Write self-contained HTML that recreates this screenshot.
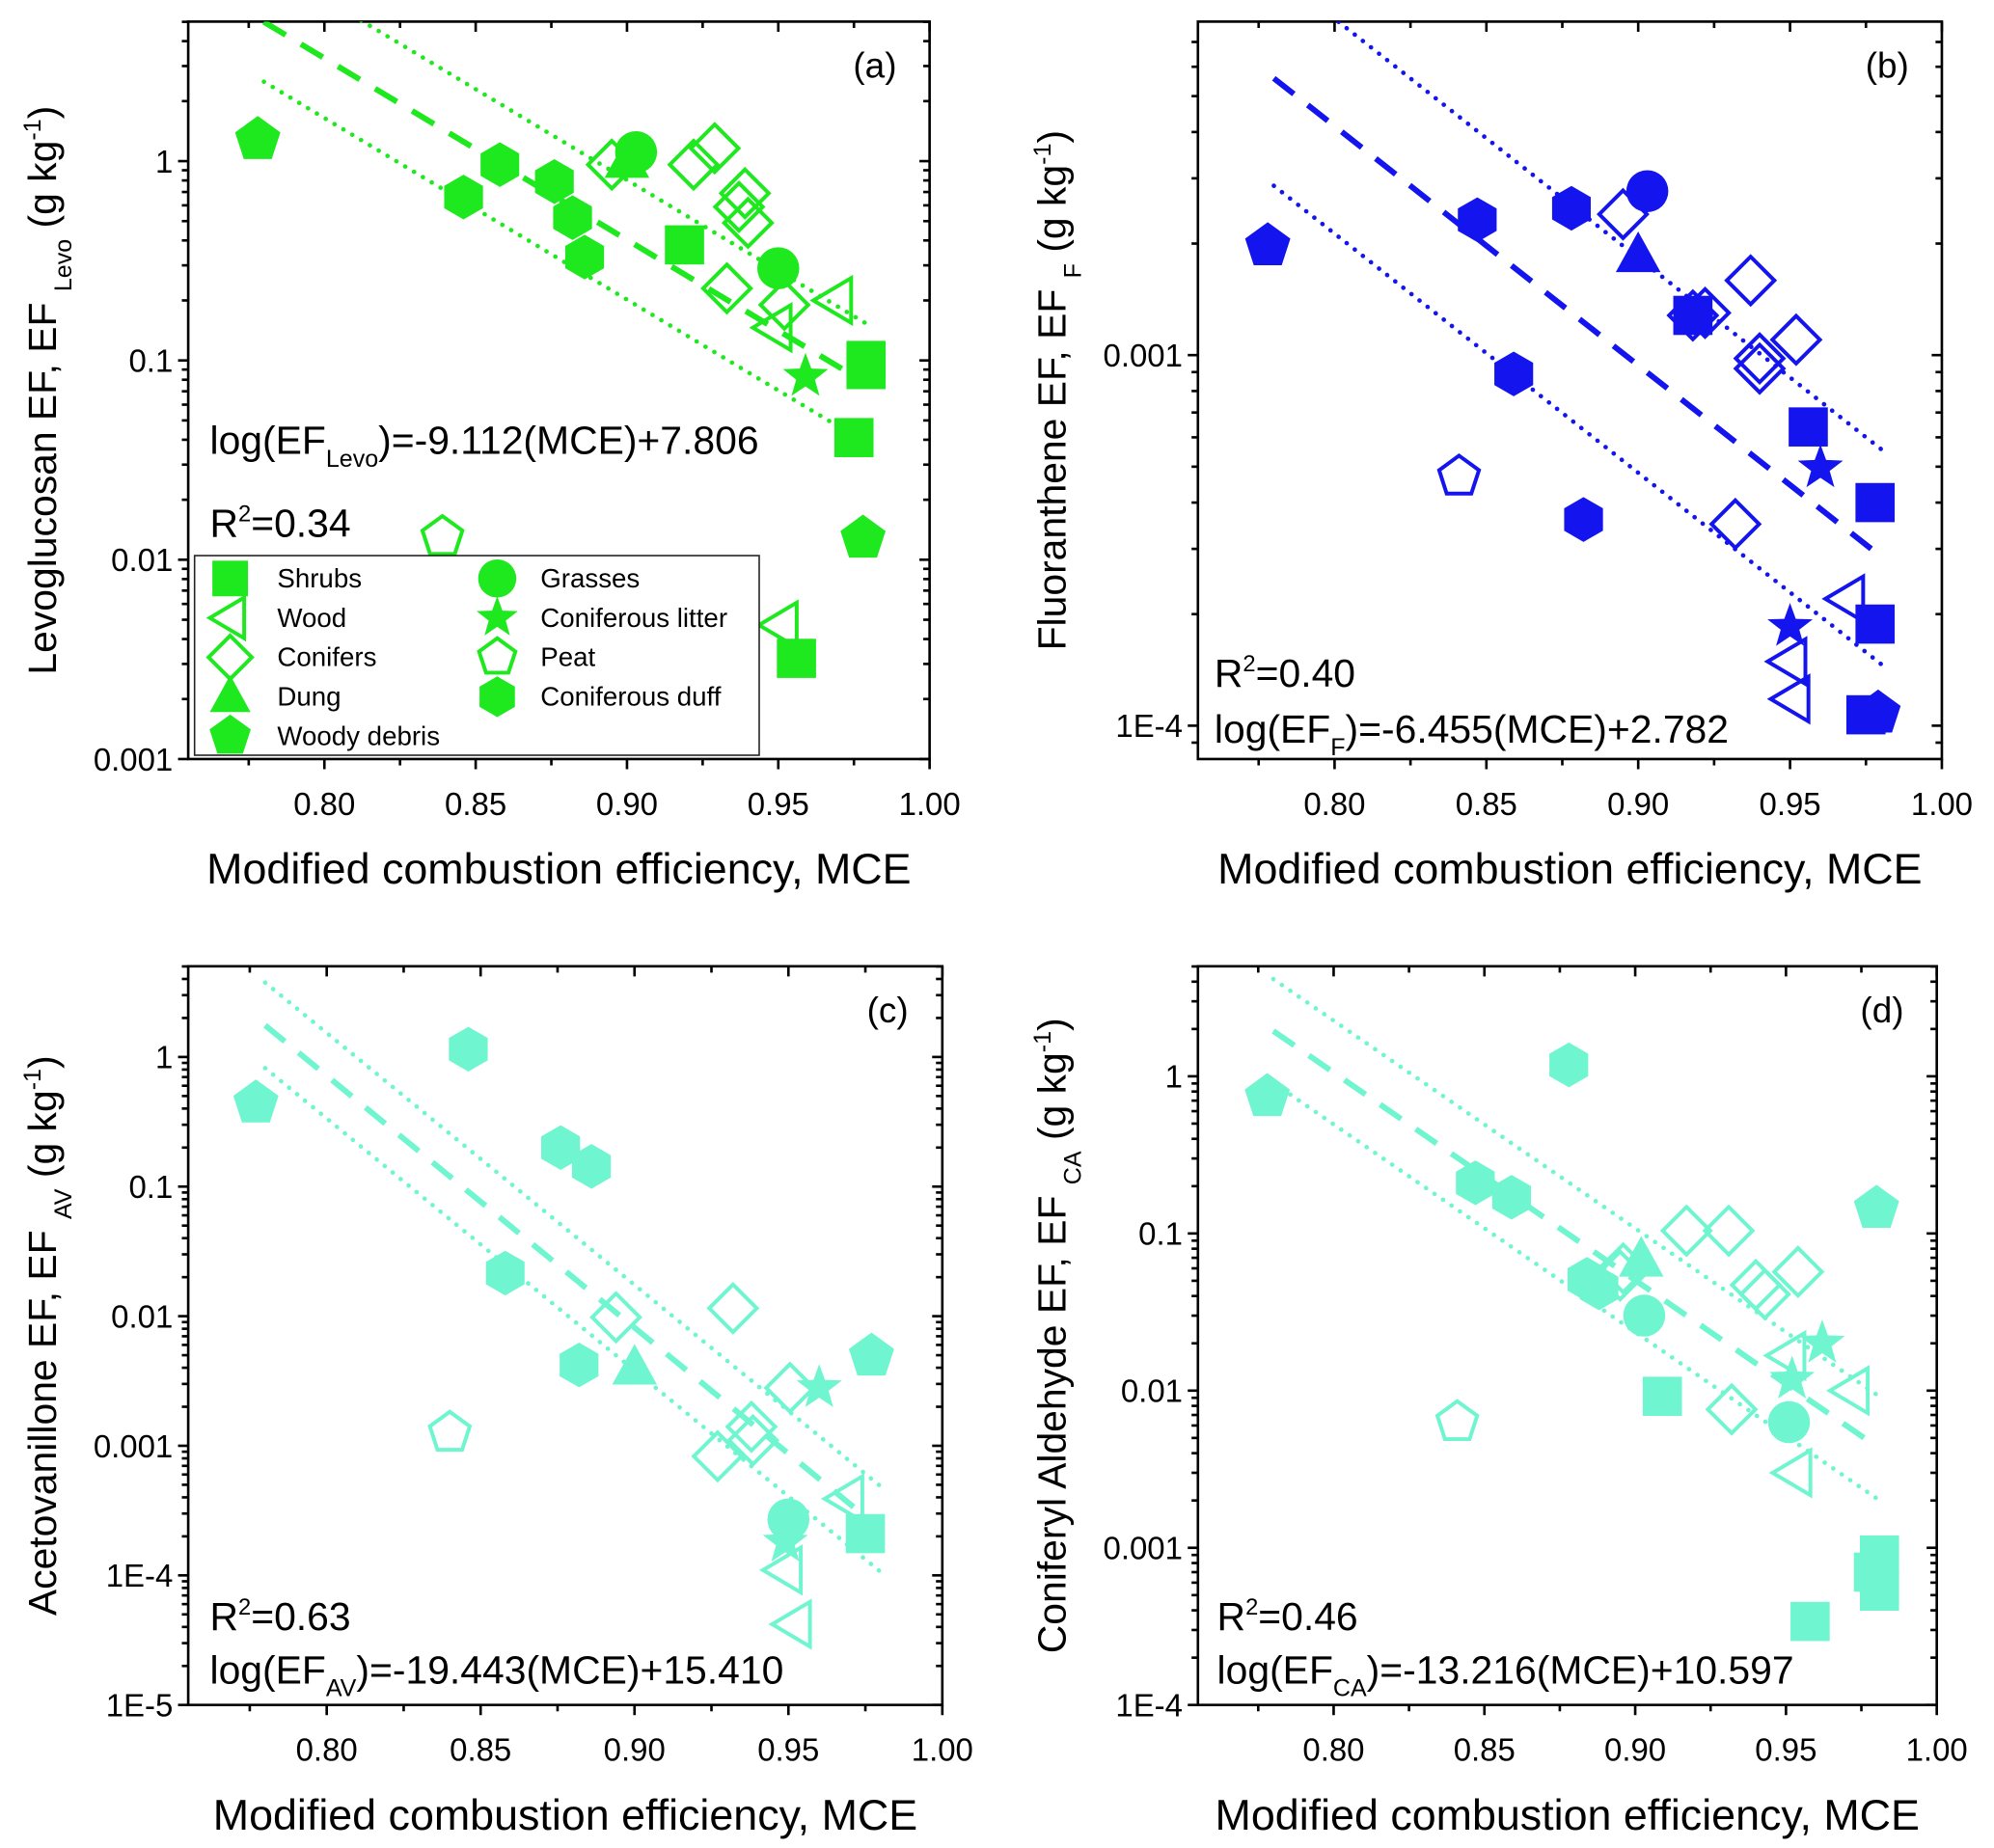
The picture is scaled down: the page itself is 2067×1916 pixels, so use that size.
<!DOCTYPE html>
<html><head><meta charset="utf-8"><title>EF vs MCE</title>
<style>
html,body{margin:0;padding:0;background:#fff;}
svg{display:block;font-family:"Liberation Sans",Arial,sans-serif;}
</style></head>
<body>
<svg id="fig" width="2067" height="1916" viewBox="0 0 1568 1453.5" preserveAspectRatio="none" xmlns="http://www.w3.org/2000/svg"></svg>
<script>
// ---------- Panel (a) Levoglucosan ----------
const aCat = ['WD','PT','WD','CD','CD','CD','CD','CD','GR','GR','DU','CO','CO','CO','CO','CO','CO','CO','CO','SH','SH','SH','SH','SH','WO','WO','WO','CL'];
const aMCE = [0.778,0.839,0.978,0.846,0.858,0.876,0.882,0.886,0.903,0.950,0.900,0.895,0.922,0.929,0.939,0.937,0.940,0.933,0.952,0.919,0.979,0.979,0.975,0.956,0.969,0.949,0.951,0.959];
const aEF  = [1.28,0.013,0.0128,0.66,0.96,0.79,0.52,0.33,1.11,0.29,1.0,0.96,0.96,1.16,0.69,0.59,0.49,0.23,0.19,0.38,0.10,0.09,0.041,0.0032,0.20,0.146,0.0047,0.083];
const aFit = [-9.112, 7.806];
const aBand = [0.30];
// ---------- Panel (b) Fluoranthene ----------
const bCat = ['WD','PT','CD','CD','CD','CD','GR','DU','CO','CO','CO','CO','CO','CO','CO','CO','SH','SH','SH','SH','SH','WO','WO','WO','CL','CL','WD'];
const bMCE = [0.778,0.841,0.847,0.859,0.882,0.878,0.903,0.900,0.895,0.918,0.922,0.937,0.940,0.940,0.952,0.932,0.918,0.956,0.978,0.978,0.975,0.969,0.950,0.951,0.960,0.950,0.979];
const bEF  = [0.00197,0.00047,0.00232,0.00089,0.00036,0.00249,0.00277,0.00186,0.0024,0.00128,0.0013,0.00159,0.00098,0.00092,0.0011,0.00035,0.00128,0.00064,0.0004,0.000188,0.000107,0.00022,0.000149,0.000118,0.000496,0.000185,0.000108];
const bFit = [-6.455, 2.782];
const bBand = [0.29];
// ---------- Panel (c) Acetovanillone ----------
const cCat = ['WD','WD','PT','CD','CD','CD','CD','CD','DU','CO','CO','CO','CO','CO','CO','GR','CL','CL','WO','WO','WO','SH'];
const cMCE = [0.777,0.977,0.840,0.846,0.876,0.886,0.858,0.882,0.900,0.894,0.932,0.927,0.938,0.9385,0.9505,0.950,0.960,0.949,0.949,0.952,0.969,0.975];
const cEF  = [0.44,0.0049,0.00126,1.15,0.20,0.143,0.0215,0.0042,0.0040,0.0098,0.0115,0.00083,0.0014,0.0011,0.0028,0.00027,0.0028,0.00018,0.00011,0.000042,0.00039,0.00021];
const cFit = [-19.443, 15.410];
const cBand = [0.33];
// ---------- Panel (d) Coniferyl aldehyde ----------
const dCat = ['WD','WD','PT','CD','CD','CD','CD','CD','DU','GR','GR','CO','CO','CO','CO','CO','CO','CO','CO','WO','WO','WO','CL','CL','SH','SH','SH','SH','SH'];
const dMCE = [0.778,0.980,0.841,0.878,0.847,0.859,0.884,0.888,0.902,0.903,0.951,0.895,0.917,0.931,0.940,0.943,0.954,0.932,0.896,0.951,0.972,0.953,0.962,0.952,0.909,0.958,0.979,0.981,0.981];
const dEF  = [0.74,0.144,0.0063,1.18,0.21,0.17,0.051,0.045,0.068,0.030,0.0063,0.054,0.104,0.104,0.047,0.041,0.057,0.0076,0.06,0.0167,0.010,0.0030,0.020,0.0118,0.0092,0.00034,0.00070,0.00090,0.00053];
const dFit = [-13.216, 10.597];
const dBand = [0.33];

const xTicks = [0.80,0.85,0.90,0.95,1.00];
const xTickLabels = ['0.80','0.85','0.90','0.95','1.00'];
const legendCats = ['SH','GR','WO','CL','CO','PT','DU','CD','WD'];
const legendNames = ['Shrubs','Grasses','Wood','Coniferous litter','Conifers','Peat','Dung','Coniferous duff','Woody debris'];

const NS='http://www.w3.org/2000/svg';
const svg=document.getElementById('fig');
function el(tag,attrs,parent){const e=document.createElementNS(NS,tag);for(const k in attrs)e.setAttribute(k,attrs[k]);(parent||svg).appendChild(e);return e;}

function marker(g,cat,cx,cy,col,k){
  k=k||1.1;let e;
  const poly=(pts,fill)=>el('polygon',{points:pts.map(p=>p[0].toFixed(1)+','+p[1].toFixed(1)).join(' '),fill:fill?col:'none',stroke:col,'stroke-width':fill?0:3},g);
  const reg=(n,r,rot)=>{const p=[];for(let i=0;i<n;i++){const a=rot+i*2*Math.PI/n;p.push([cx+r*k*Math.cos(a),cy+r*k*Math.sin(a)]);}return p;};
  if(cat==='SH') e=el('rect',{x:cx-14*k,y:cy-14*k,width:28*k,height:28*k,fill:col},g);
  else if(cat==='GR') e=el('circle',{cx:cx,cy:cy,r:15*k,fill:col},g);
  else if(cat==='DU') e=poly([[cx,cy-17*k],[cx+16*k,cy+12*k],[cx-16*k,cy+12*k]],true);
  else if(cat==='CO') e=poly([[cx,cy-17*k],[cx+17*k,cy],[cx,cy+17*k],[cx-17*k,cy]],false);
  else if(cat==='WO') e=poly([[cx-16*k,cy],[cx+11*k,cy-16*k],[cx+11*k,cy+16*k]],false);
  else if(cat==='WD') e=poly(reg(5,17,-Math.PI/2),true);
  else if(cat==='PT') e=poly(reg(5,15,-Math.PI/2),false);
  else if(cat==='CD') e=poly(reg(6,16,-Math.PI/2),true);
  else if(cat==='CL'){const p=[];for(let i=0;i<10;i++){const r=(i%2?7:17)*k;const a=-Math.PI/2+i*Math.PI/5;p.push([cx+r*Math.cos(a),cy+r*Math.sin(a)]);}e=poly(p,true);}
  return e;
}

const panels=[
 {id:'a',L:148,R:731,T:17,B:597,ymin:-3,ymax:0.70,cat:aCat,x:aMCE,y:aEF,fit:aFit,band:aBand,col:'#1ee81e',
  yLabels:[[-3,'0.001'],[-2,'0.01'],[-1,'0.1'],[0,'1']],ytitle:['Levoglucosan EF, EF','Levo'],sub:'Levo',eq:[165,357],r2:[165,422],legend:true},
 {id:'b',L:942,R:1527,T:17,B:597,ymin:-4.09,ymax:-2.10,cat:bCat,x:bMCE,y:bEF,fit:bFit,band:bBand,col:'#1414ee',
  yLabels:[[-4,'1E-4'],[-3,'0.001']],ytitle:['Fluoranthene EF, EF','F'],sub:'F',eq:[955,584],r2:[955,540]},
 {id:'c',L:148,R:741,T:760,B:1341,ymin:-5,ymax:0.70,cat:cCat,x:cMCE,y:cEF,fit:cFit,band:cBand,col:'#6ff5cf',
  yLabels:[[-5,'1E-5'],[-4,'1E-4'],[-3,'0.001'],[-2,'0.01'],[-1,'0.1'],[0,'1']],ytitle:['Acetovanillone EF, EF','AV'],sub:'AV',eq:[165,1324],r2:[165,1282]},
 {id:'d',L:942,R:1523,T:760,B:1341,ymin:-4,ymax:0.70,cat:dCat,x:dMCE,y:dEF,fit:dFit,band:dBand,col:'#6ff5cf',
  yLabels:[[-4,'1E-4'],[-3,'0.001'],[-2,'0.01'],[-1,'0.1'],[0,'1']],ytitle:['Coniferyl Aldehyde EF, EF','CA'],sub:'CA',eq:[957,1324],r2:[957,1282]}
];
const XMIN=0.755,XMAX=1.0;

panels.forEach(P=>{
  const g=el('g',{});
  
  
  const sx=v=>P.L+(v-XMIN)/(XMAX-XMIN)*(P.R-P.L);
  const sy=v=>P.B-(Math.log10(v)-P.ymin)/(P.ymax-P.ymin)*(P.B-P.T);
  const syl=l=>P.B-(l-P.ymin)/(P.ymax-P.ymin)*(P.B-P.T);
  const cp=el('clipPath',{id:'clip'+P.id},g);
  el('rect',{x:P.L,y:P.T,width:P.R-P.L,height:P.B-P.T},cp);
  const fr=el('rect',{x:P.L,y:P.T,width:P.R-P.L,height:P.B-P.T,fill:'none',stroke:'#000','stroke-width':2},g);
  
  
  for(let v=0.775;v<=1.0001;v+=0.025){
    const X=sx(v);const major=Math.abs(Math.round(v*20)-v*20)<1e-6;const len=major?8:5;
    el('line',{x1:X,y1:P.B,x2:X,y2:P.B+len,stroke:'#000','stroke-width':2},g);
    el('line',{x1:X,y1:P.T,x2:X,y2:P.T+len,stroke:'#000','stroke-width':2},g);
  }
  xTicks.forEach((v,i)=>{
    const t=el('text',{x:sx(v),y:P.B+44,'font-size':25,'text-anchor':'middle',fill:'#000'},g);
    t.textContent=xTickLabels[i];
    
    
  });
  for(let d=Math.floor(P.ymin);d<=Math.ceil(P.ymax);d++){
    for(let m=1;m<10;m++){
      const l=d+Math.log10(m);if(l<P.ymin-1e-6||l>P.ymax+1e-6)continue;
      const Y=syl(l);const len=m===1?8:5;
      el('line',{x1:P.L-len,y1:Y,x2:P.L,y2:Y,stroke:'#000','stroke-width':2},g);
      el('line',{x1:P.R-len,y1:Y,x2:P.R,y2:Y,stroke:'#000','stroke-width':2},g);
    }
  }
  P.yLabels.forEach(([l,s])=>{
    const t=el('text',{x:P.L-12,y:syl(l)+9,'font-size':25,'text-anchor':'end',fill:'#000'},g);
    t.textContent=s;
    
    
  });
  const xt=el('text',{x:(P.L+P.R)/2,y:P.B+98,'font-size':34,'text-anchor':'middle',fill:'#000'},g);
  xt.textContent='Modified combustion efficiency, MCE';
  
  
  const cyT=(P.T+P.B)/2;
  const yt=el('text',{x:0,y:0,'font-size':31,'text-anchor':'middle',fill:'#000',transform:`translate(${P.L-104},${cyT}) rotate(-90)`},g);
  
  
  const t1=el('tspan',{},yt);t1.textContent=P.ytitle[0]+' ';
  const t2=el('tspan',{'font-size':19,dy:12},yt);t2.textContent=P.ytitle[1];
  const t3=el('tspan',{dy:-12},yt);t3.textContent=' (g kg';
  const t4=el('tspan',{'font-size':19,dy:-12},yt);t4.textContent='-1';
  const t5=el('tspan',{dy:12},yt);t5.textContent=')';
  const pl=el('text',{x:P.R-43,y:P.T+44,'font-size':28,'text-anchor':'middle',fill:'#000'},g);
  pl.textContent='('+P.id+')';
  
  
  const lg=el('g',{'clip-path':`url(#clip${P.id})`},g);
  const x0=0.78,x1=0.98;
  const fy=x=>P.fit[0]*x+P.fit[1];
  const fl=el('line',{x1:sx(x0),y1:syl(fy(x0)),x2:sx(x1),y2:syl(fy(x1)),stroke:P.col,'stroke-width':4.5,'stroke-dasharray':'20 14','stroke-linecap':'butt'},lg);
  
  
  [P.band[0],-P.band[0]].forEach(off=>{
    const bl=el('line',{x1:sx(x0),y1:syl(fy(x0)+off),x2:sx(x1),y2:syl(fy(x1)+off),stroke:P.col,'stroke-width':3.5,'stroke-dasharray':'0.1 8','stroke-linecap':'round'},lg);
    
    
  });
  P.cat.forEach((c,i)=>{
    const m=marker(g,c,sx(P.x[i]),sy(P.y[i]),P.col);
    
    
  });
  const eq=el('text',{x:P.eq[0],y:P.eq[1],'font-size':31,fill:'#000'},g);
  
  
  const e1=el('tspan',{},eq);e1.textContent='log(EF';
  const e2=el('tspan',{'font-size':19,dy:10},eq);e2.textContent=P.sub;
  const e3=el('tspan',{dy:-10},eq);e3.textContent=')='+(P.fit[0].toFixed(3))+'(MCE)+'+P.fit[1].toFixed(3);
  const r2=el('text',{x:P.r2[0],y:P.r2[1],'font-size':31,fill:'#000'},g);
  
  
  const rr={a:'0.34',b:'0.40',c:'0.63',d:'0.46'}[P.id];
  const r1=el('tspan',{},r2);r1.textContent='R';
  const rs=el('tspan',{'font-size':18,dy:-12},r2);rs.textContent='2';
  const r3=el('tspan',{dy:12},r2);r3.textContent='='+rr;
  if(P.legend){
    const lgd=el('g',{},g);
    
    
    el('rect',{x:153,y:437,width:444,height:157,fill:'#fff',stroke:'#222','stroke-width':1.2},lgd);
    legendCats.forEach((c,i)=>{
      const col=i%2, row=Math.floor(i/2);
      const mx=col?391:181, my=455+row*31;
      const m=marker(lgd,c,mx,my,P.col,1);
      
      
      const t=el('text',{x:col?425:218,y:my+7,'font-size':21,fill:'#000'},lgd);
      t.textContent=legendNames[i];
      
      
    });
  }
});
</script>
</body></html>
